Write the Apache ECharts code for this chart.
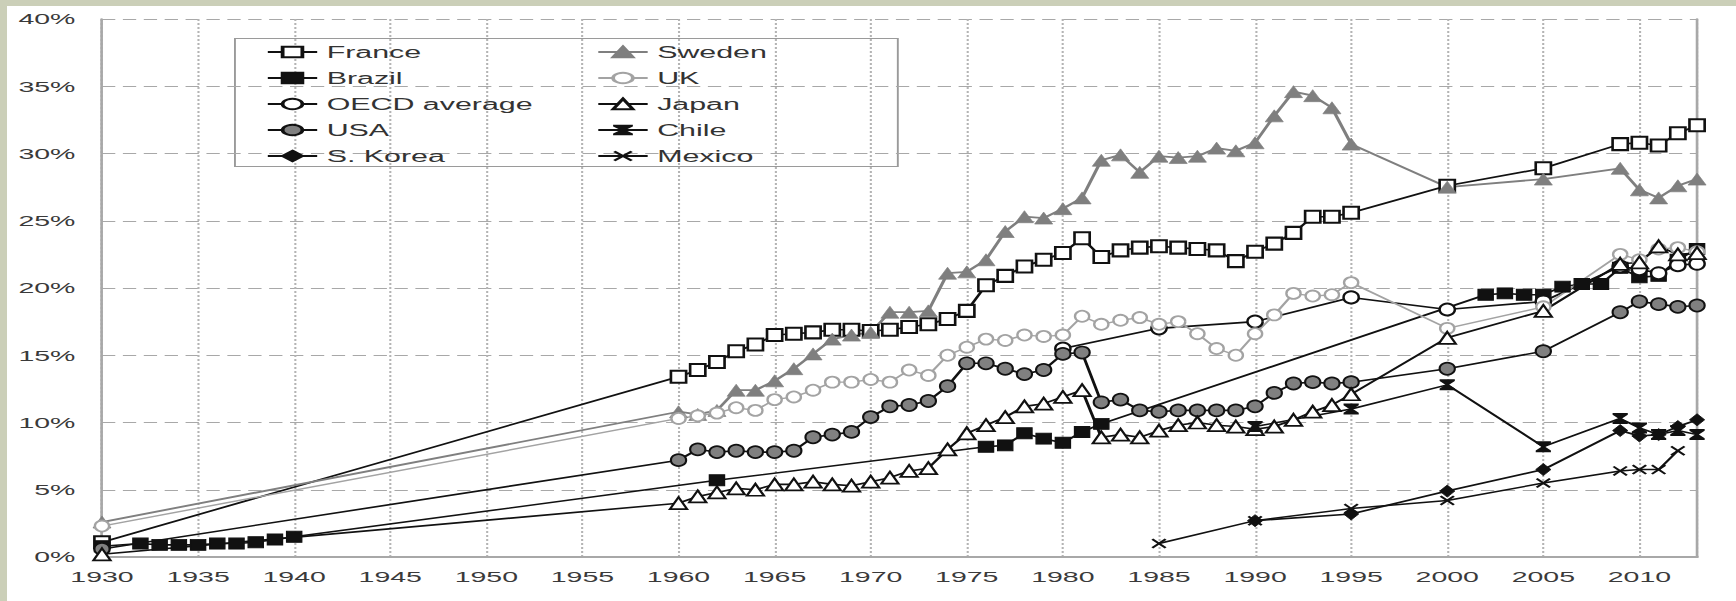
<!DOCTYPE html>
<html>
<head>
<meta charset="utf-8">
<script src="https://cdn.jsdelivr.net/npm/echarts@6/dist/echarts.min.js"></script>
<style>
html,body{margin:0;padding:0;width:1736px;height:601px;overflow:hidden;background:#cbcfb8;}
#paper{position:absolute;left:7px;top:6px;width:1729px;height:595px;background:#ffffff;}
#chart{position:absolute;left:0;top:0;width:914px;height:601px;transform:scaleX(1.899344);transform-origin:0 0;}
</style>
</head>
<body>
<div id="paper"></div>
<div id="chart"></div>
<script>
// ---- axis settings ----
const xMin = 1930, xMax = 2013, xStep = 5;
const yMin = 0, yMax = 40, yStep = 5;

// ---- legend columns ----
const legendCol1 = ['France', 'Brazil', 'OECD average', 'USA', 'S. Korea'];
const legendCol2 = ['Sweden', 'UK', 'Japan', 'Chile', 'Mexico'];

// ---- data (years / values in %) ----
const franceYears = [1930,1960,1961,1962,1963,1964,1965,1966,1967,1968,1969,1970,1971,1972,1973,1974,1975,1976,1977,1978,1979,1980,1981,1982,1983,1984,1985,1986,1987,1988,1989,1990,1991,1992,1993,1994,1995,2000,2005,2009,2010,2011,2012,2013];
const franceValues = [1.1,13.4,13.9,14.5,15.3,15.8,16.5,16.6,16.7,16.9,16.9,16.8,16.9,17.1,17.3,17.7,18.3,20.2,20.9,21.6,22.1,22.6,23.7,22.3,22.8,23.0,23.1,23.0,22.9,22.8,22.0,22.7,23.3,24.1,25.3,25.3,25.6,27.6,28.9,30.7,30.8,30.6,31.5,32.1];

const brazilYears = [1930,1932,1933,1934,1935,1936,1937,1938,1939,1940,1962,1976,1977,1978,1979,1980,1981,1982,2002,2003,2004,2005,2006,2007,2008,2009,2010,2011,2012,2013];
const brazilValues = [0.8,1.0,0.9,0.9,0.9,1.0,1.0,1.1,1.3,1.5,5.7,8.2,8.3,9.2,8.8,8.5,9.3,9.9,19.5,19.6,19.5,19.5,20.1,20.3,20.3,21.5,20.8,20.9,22.1,22.9];

const oecdYears = [1980,1985,1990,1995,2000,2005,2009,2010,2011,2012,2013];
const oecdValues = [15.5,17.0,17.5,19.3,18.4,19.0,21.6,21.4,21.1,21.7,21.8];

const usaYears = [1930,1960,1961,1962,1963,1964,1965,1966,1967,1968,1969,1970,1971,1972,1973,1974,1975,1976,1977,1978,1979,1980,1981,1982,1983,1984,1985,1986,1987,1988,1989,1990,1991,1992,1993,1994,1995,2000,2005,2009,2010,2011,2012,2013];
const usaValues = [0.6,7.2,8.0,7.8,7.9,7.8,7.8,7.9,8.9,9.1,9.3,10.4,11.2,11.3,11.6,12.7,14.4,14.4,14.0,13.6,13.9,15.1,15.2,11.5,11.7,10.9,10.8,10.9,10.9,10.9,10.9,11.2,12.2,12.9,13.0,12.9,13.0,14.0,15.3,18.2,19.0,18.8,18.6,18.7];

const koreaYears = [1990,1995,2000,2005,2009,2010,2011,2012,2013];
const koreaValues = [2.7,3.2,4.9,6.5,9.4,9.0,9.1,9.7,10.2];

const swedenYears = [1930,1960,1961,1962,1963,1964,1965,1966,1967,1968,1969,1970,1971,1972,1973,1974,1975,1976,1977,1978,1979,1980,1981,1982,1983,1984,1985,1986,1987,1988,1989,1990,1991,1992,1993,1994,1995,2000,2005,2009,2010,2011,2012,2013];
const swedenValues = [2.6,10.8,10.6,10.9,12.4,12.4,13.1,14.0,15.1,16.2,16.5,16.7,18.2,18.2,18.3,21.1,21.2,22.1,24.2,25.3,25.2,25.9,26.7,29.5,29.9,28.6,29.8,29.7,29.8,30.4,30.2,30.8,32.8,34.6,34.3,33.4,30.7,27.5,28.1,28.9,27.3,26.7,27.6,28.1];

const ukYears = [1930,1960,1961,1962,1963,1964,1965,1966,1967,1968,1969,1970,1971,1972,1973,1974,1975,1976,1977,1978,1979,1980,1981,1982,1983,1984,1985,1986,1987,1988,1989,1990,1991,1992,1993,1994,1995,2000,2005,2009,2010,2011,2012,2013];
const ukValues = [2.3,10.3,10.5,10.7,11.1,10.9,11.7,11.9,12.4,13.0,13.0,13.2,13.0,13.9,13.5,15.0,15.6,16.2,16.1,16.5,16.4,16.5,17.9,17.3,17.6,17.8,17.3,17.5,16.6,15.5,15.0,16.6,18.0,19.6,19.4,19.5,20.4,17.0,18.6,22.5,22.1,22.9,23.0,22.7];

const japanYears = [1930,1960,1961,1962,1963,1964,1965,1966,1967,1968,1969,1970,1971,1972,1973,1974,1975,1976,1977,1978,1979,1980,1981,1982,1983,1984,1985,1986,1987,1988,1989,1990,1991,1992,1993,1994,1995,2000,2005,2009,2010,2011,2012,2013];
const japanValues = [0.2,4.0,4.5,4.8,5.1,5.0,5.4,5.4,5.6,5.4,5.3,5.6,5.9,6.4,6.6,8.0,9.2,9.8,10.4,11.2,11.4,11.9,12.4,8.9,9.1,8.9,9.4,9.8,10.0,9.8,9.7,9.5,9.7,10.2,10.8,11.3,12.1,16.3,18.3,21.8,21.9,23.1,22.5,22.6];

const chileYears = [1990,1995,2000,2005,2009,2010,2011,2012,2013];
const chileValues = [9.7,11.0,12.8,8.2,10.3,9.6,9.1,9.4,9.1];

const mexicoYears = [1985,1990,1995,2000,2005,2009,2010,2011,2012];
const mexicoValues = [1.0,2.7,3.6,4.2,5.5,6.4,6.5,6.5,7.9];

// ---- build ----
const BLACK = '#111111';
const chileSymbol = 'path://M0,0 H10 V1.6 L6.2,5 L10,8.4 V10 H0 V8.4 L3.8,5 L0,1.6 Z';
const mexicoSymbol = 'path://M0,1.2 L1.2,0 L5,3.8 L8.8,0 L10,1.2 L6.2,5 L10,8.8 L8.8,10 L5,6.2 L1.2,10 L0,8.8 L3.8,5 Z';

function pairs(ys, vs) { return ys.map((y, i) => [y, vs[i]]); }
function mk(name, ys, vs, s) {
  return {
    type: 'line', name: name, data: pairs(ys, vs),
    symbol: s.symbol, symbolSize: s.size, showSymbol: true, showAllSymbol: true,
    itemStyle: { color: s.fill, borderColor: s.border, borderWidth: s.bw },
    lineStyle: { color: s.line, width: s.lw, type: 'solid' },
    emphasis: { disabled: true }, silent: true, animation: false, clip: false
  };
}

const series = [
  mk('France', franceYears, franceValues, {symbol:'rect', size:[8,12], fill:'#ffffff', border:BLACK, bw:1.7, line:BLACK, lw:1.6}),
  mk('Brazil', brazilYears, brazilValues, {symbol:'rect', size:[8,11], fill:BLACK, border:BLACK, bw:0.8, line:BLACK, lw:1.6}),
  mk('OECD average', oecdYears, oecdValues, {symbol:'circle', size:[8,12], fill:'#ffffff', border:BLACK, bw:1.6, line:BLACK, lw:1.6}),
  mk('USA', usaYears, usaValues, {symbol:'circle', size:[8,12], fill:'#808080', border:BLACK, bw:1.4, line:BLACK, lw:1.6}),
  mk('S. Korea', koreaYears, koreaValues, {symbol:'diamond', size:[8,12], fill:BLACK, border:BLACK, bw:0.6, line:BLACK, lw:1.6}),
  mk('Sweden', swedenYears, swedenValues, {symbol:'triangle', size:[9.5,12], fill:'#7f7f7f', border:'#7f7f7f', bw:0.5, line:'#7f7f7f', lw:1.8}),
  mk('UK', ukYears, ukValues, {symbol:'circle', size:[7.5,11], fill:'#ffffff', border:'#a3a3a3', bw:1.5, line:'#a3a3a3', lw:1.4}),
  mk('Japan', japanYears, japanValues, {symbol:'triangle', size:[9,12], fill:'#ffffff', border:BLACK, bw:1.5, line:BLACK, lw:1.6}),
  mk('Chile', chileYears, chileValues, {symbol:chileSymbol, size:[8,11], fill:BLACK, border:BLACK, bw:0, line:BLACK, lw:1.5}),
  mk('Mexico', mexicoYears, mexicoValues, {symbol:mexicoSymbol, size:[8,10], fill:BLACK, border:BLACK, bw:0, line:BLACK, lw:1.5})
];

const legendCommon = {
  orient: 'vertical', top: 44, itemWidth: 26, itemHeight: 13, itemGap: 10, padding: 0,
  selectedMode: false,
  textStyle: { fontSize: 16, color: '#333333', fontFamily: 'Liberation Sans, Arial, sans-serif', lineHeight: 16 }
};

const chart = echarts.init(document.getElementById('chart'), null, { renderer: 'svg' });
chart.setOption({
  animation: false,
  backgroundColor: 'transparent',
  textStyle: { fontFamily: 'Liberation Sans, Arial, sans-serif' },
  grid: { left: 53.7, right: 20.5, top: 19, bottom: 44, containLabel: false, outerBoundsMode: 'none' },
  xAxis: {
    type: 'value', min: xMin, max: xMax, interval: xStep,
    axisLine: { show: true, onZero: false, lineStyle: { color: '#a8a8a8', width: 2 } },
    axisTick: { show: false },
    axisLabel: {
      margin: 12, fontSize: 15, color: '#3a3a3a', showMaxLabel: false,
      formatter: v => (v % xStep === 0 ? String(v) : '')
    },
    splitLine: { show: true, lineStyle: { color: '#b4b4b4', width: 1.1, type: [2, 2] } }
  },
  yAxis: [{
    type: 'value', min: yMin, max: yMax, interval: yStep,
    axisLine: { show: true, lineStyle: { color: '#a8a8a8', width: 1.4 } },
    axisTick: { show: false },
    axisLabel: { margin: 14, fontSize: 15, color: '#3a3a3a', formatter: '{value}%' },
    splitLine: { show: true, lineStyle: { color: '#a8a8a8', width: 1.2, type: [7, 4] } }
  }, {
    type: 'value', min: yMin, max: yMax, interval: yStep, position: 'right',
    axisLine: { show: true, lineStyle: { color: '#a8a8a8', width: 1.4 } },
    axisTick: { show: false }, axisLabel: { show: false }, splitLine: { show: false }
  }],
  legend: [
    Object.assign({ left: 140, data: legendCol1 }, legendCommon),
    Object.assign({ left: 314, data: legendCol2 }, legendCommon)
  ],
  graphic: [{
    type: 'rect', left: 123.2, top: 38, z: -1, silent: true,
    shape: { width: 349, height: 128 },
    style: { fill: '#ffffff', stroke: '#9a9a9a', lineWidth: 1 }
  }],
  series: series
});
</script>
</body>
</html>
